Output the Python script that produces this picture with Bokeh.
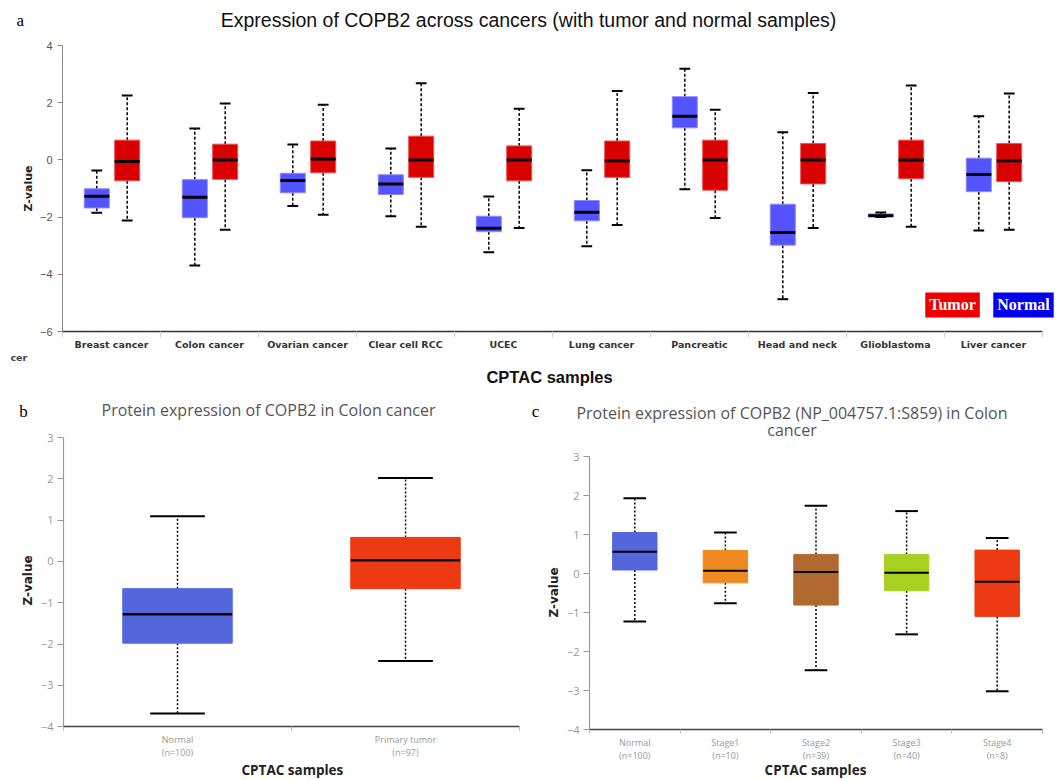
import math
from bokeh.plotting import figure
from bokeh.layouts import column, row
from bokeh.models import Label, FixedTicker, ColumnDataSource, Range1d
from bokeh.embed import file_html
from bokeh.resources import INLINE

# ---------------- Panel a data ----------------
cancers = ["Breast cancer", "Colon cancer", "Ovarian cancer", "Clear cell RCC", "UCEC",
           "Lung cancer", "Pancreatic", "Head and neck", "Glioblastoma", "Liver cancer"]
normal_top = [-0.37, 1.10, 0.54, 0.40, -1.28, -0.36, 3.19, 0.97, -1.84, 1.53]
normal_q3 = [-1.01, -0.69, -0.47, -0.52, -1.97, -1.42, 2.21, -1.55, -1.89, 0.06]
normal_med = [-1.27, -1.31, -0.72, -0.84, -2.39, -1.83, 1.53, -2.54, -1.95, -0.51]
normal_q1 = [-1.68, -2.02, -1.15, -1.21, -2.51, -2.13, 1.12, -2.98, -1.98, -1.11]
normal_bot = [-1.85, -3.69, -1.61, -1.97, -3.23, -3.02, -1.03, -4.87, -2.00, -2.47]
tumor_top = [2.25, 1.97, 1.93, 2.68, 1.79, 2.41, 1.75, 2.34, 2.60, 2.32]
tumor_q3 = [0.69, 0.55, 0.66, 0.83, 0.49, 0.66, 0.69, 0.57, 0.69, 0.57]
tumor_med = [-0.06, 0.00, 0.03, 0.00, 0.00, -0.03, 0.00, 0.00, 0.00, -0.03]
tumor_q1 = [-0.73, -0.68, -0.45, -0.61, -0.73, -0.61, -1.06, -0.84, -0.66, -0.76]
tumor_bot = [-2.12, -2.44, -1.92, -2.34, -2.38, -2.28, -2.03, -2.38, -2.34, -2.44]
a_yticks = [-6, -4, -2, 0, 2, 4]

# ---------------- Panel b data ----------------
b_groups = ["Normal\n(n=100)", "Primary tumor\n(n=97)"]
b_top = [1.095, 2.02]
b_q3 = [-0.66, 0.58]
b_med = [-1.28, 0.03]
b_q1 = [-1.98, -0.66]
b_bot = [-3.68, -2.41]
b_colors = ["#5566dd", "#ee3a12"]
b_yticks = [-4, -3, -2, -1, 0, 1, 2, 3]

# ---------------- Panel c data ----------------
c_groups = ["Normal\n(n=100)", "Stage1\n(n=10)", "Stage2\n(n=39)", "Stage3\n(n=40)", "Stage4\n(n=8)"]
c_top = [1.93, 1.05, 1.74, 1.60, 0.91]
c_q3 = [1.05, 0.59, 0.49, 0.49, 0.60]
c_med = [0.56, 0.07, 0.04, 0.02, -0.21]
c_q1 = [0.09, -0.24, -0.81, -0.44, -1.10]
c_bot = [-1.23, -0.76, -2.48, -1.56, -3.02]
c_colors = ["#5566dd", "#f08a22", "#b06a30", "#a8d020", "#ee3a12"]
c_yticks = [-4, -3, -2, -1, 0, 1, 2, 3]


def draw_boxes(p, xs, top, q3, med, q1, bot, colors, width, cap, line_colors=None,
               med_w=2, dash="3 2", whisk_w=1.5):
    src = ColumnDataSource(dict(
        x=xs, top=top, q3=q3, med=med, q1=q1, bot=bot, color=colors,
        lc=line_colors if line_colors else colors,
        bl=[x - width / 2 for x in xs], br=[x + width / 2 for x in xs],
        cl=[x - cap / 2 for x in xs], cr=[x + cap / 2 for x in xs]))
    p.segment(x0="x", y0="q3", x1="x", y1="top", source=src, line_color="black",
              line_width=whisk_w, line_dash=dash)
    p.segment(x0="x", y0="q1", x1="x", y1="bot", source=src, line_color="black",
              line_width=whisk_w, line_dash=dash)
    p.vbar(x="x", width=width, top="q3", bottom="q1", source=src, fill_color="color",
           line_color="lc", line_width=1)
    p.segment(x0="bl", y0="med", x1="br", y1="med", source=src, line_color="black",
              line_width=med_w)
    p.segment(x0="cl", y0="top", x1="cr", y1="top", source=src, line_color="black", line_width=2)
    p.segment(x0="cl", y0="bot", x1="cr", y1="bot", source=src, line_color="black", line_width=2)


def lab(p, x, y, text, size, color="#222", font="Liberation Sans", style="normal",
        angle=0, align="center", **kw):
    p.add_layout(Label(x=x, y=y, text=text, text_font_size=size, text_color=color,
                       text_font=font, text_font_style=style, angle=angle,
                       text_align=align, text_baseline="middle", **kw))


def full_fig(w, h, ax_left_px, px_per_x, top_px, y_top_val, px_per_y, xbounds, ybounds):
    """Figure whose frame covers the whole canvas; axes sit at fixed data locations."""
    x0 = -ax_left_px / px_per_x
    x1 = (w - ax_left_px) / px_per_x
    y1 = y_top_val + top_px / px_per_y
    y0 = y_top_val - (h - top_px) / px_per_y
    p = figure(width=w, height=h, x_range=Range1d(x0, x1), y_range=Range1d(y0, y1),
               output_backend="svg", toolbar_location=None, min_border=0)
    p.title.visible = False
    p.outline_line_color = None
    p.xgrid.visible = False
    p.ygrid.visible = False
    p.xaxis.fixed_location = ybounds[0]
    p.yaxis.fixed_location = xbounds[0]
    p.xaxis.bounds = xbounds
    p.yaxis.bounds = ybounds
    return p


# ================= Panel a =================
n = len(cancers)
pa = full_fig(1063, 388, 62, 98.0, 45, 4, 28.6, (0, n), (-6, 4))
centers = [i + 0.5 for i in range(n)]
draw_boxes(pa, [c - 0.15 for c in centers], normal_top, normal_q3, normal_med, normal_q1,
           normal_bot, ["#5353ff"] * n, 0.255, 0.11, ["#8a8aff"] * n, med_w=3, dash="3 2")
draw_boxes(pa, [c + 0.16 for c in centers], tumor_top, tumor_q3, tumor_med, tumor_q1,
           tumor_bot, ["#d90000"] * n, 0.255, 0.11, ["#ee5050"] * n, med_w=3, dash="3 2")

pa.xaxis.ticker = FixedTicker(ticks=centers, minor_ticks=list(range(n + 1)))
pa.xaxis.major_label_overrides = {c: name for c, name in zip(centers, cancers)}
pa.xaxis.major_tick_out = 0
pa.xaxis.major_tick_in = 0
pa.xaxis.minor_tick_out = 6
pa.xaxis.minor_tick_in = 0
pa.xaxis.minor_tick_line_color = "#c5d2ea"
pa.xaxis.axis_line_color = "#333333"
pa.xaxis.axis_line_width = 1.5
pa.xaxis.major_label_text_font = "DejaVu Sans"
pa.xaxis.major_label_text_font_style = "bold"
pa.xaxis.major_label_text_font_size = "9.5px"
pa.xaxis.major_label_text_color = "#333333"
pa.xaxis.major_label_standoff = 1

pa.yaxis.ticker = FixedTicker(ticks=a_yticks, minor_ticks=[])
pa.yaxis.axis_line_color = "#888888"
pa.yaxis.major_tick_line_color = "#888888"
pa.yaxis.major_tick_out = 5
pa.yaxis.major_tick_in = 0
pa.yaxis.major_label_text_font = "Liberation Sans"
pa.yaxis.major_label_text_font_size = "11px"
pa.yaxis.major_label_text_color = "#555555"
pa.yaxis.major_label_standoff = 5

lab(pa, 4.755, 4.909, "Expression of COPB2 across cancers (with tumor and normal samples)", "19.5px",
    color="#111")
lab(pa, -0.43, 4.87, "a", "17px", color="#000", font="Liberation Serif")
lab(pa, -0.347, -1.0, "Z-value", "11px", color="#222", font="DejaVu Sans", style="bold",
    angle=math.pi / 2)
lab(pa, -0.531, -6.909, "cer", "9.5px", color="#444", font="DejaVu Sans", style="bold",
    align="left")
lab(pa, 4.97, -7.608, "CPTAC samples", "16.5px", color="#111", font="Liberation Sans",
    style="bold")
lab(pa, 9.082, -5.073, "Tumor", "16px", color="white", font="Liberation Serif", style="bold",
    background_fill_color="#ee0000", padding=4)
lab(pa, 9.806, -5.073, "Normal", "16px", color="white", font="Liberation Serif", style="bold",
    background_fill_color="#0000ee", padding=4)


def style_small(p, groups, yticks):
    k = len(groups)
    cs = [i + 0.5 for i in range(k)]
    p.xaxis.ticker = FixedTicker(ticks=cs, minor_ticks=list(range(k + 1)))
    p.xaxis.major_label_overrides = {c: g for c, g in zip(cs, groups)}
    p.xaxis.major_tick_out = 0
    p.xaxis.major_tick_in = 0
    p.xaxis.minor_tick_out = 4
    p.xaxis.minor_tick_in = 0
    p.xaxis.minor_tick_line_color = "#bbbbbb"
    p.xaxis.axis_line_color = "#444444"
    p.xaxis.axis_line_width = 1.5
    p.xaxis.major_label_text_font = "Open Sans"
    p.xaxis.major_label_text_font_size = "9px"
    p.xaxis.major_label_text_line_height = 1.0
    p.xaxis.major_label_text_color = "#999999"
    p.xaxis.major_label_standoff = 2
    p.yaxis.ticker = FixedTicker(ticks=yticks, minor_ticks=[])
    p.yaxis.axis_line_color = "#999999"
    p.yaxis.axis_line_width = 1.2
    p.yaxis.major_tick_line_color = "#999999"
    p.yaxis.major_tick_out = 6
    p.yaxis.major_tick_in = 0
    p.yaxis.major_label_text_font = "Open Sans"
    p.yaxis.major_label_text_font_size = "11px"
    p.yaxis.major_label_text_color = "#999999"
    p.yaxis.major_label_standoff = 4
    return cs


# ================= Panel b =================
pb = full_fig(530, 392, 63, 228.0, 49, 3, 41.3, (0, len(b_groups)), (-4, 3))
bcs = style_small(pb, b_groups, b_yticks)
draw_boxes(pb, bcs, b_top, b_q3, b_med, b_q1, b_bot, b_colors, 0.48, 0.24,
           med_w=2.5, dash="2 2")
lab(pb, 0.899, 3.654, "Protein expression of COPB2 in Colon cancer", "16px", color="#555",
    font="Open Sans")
lab(pb, -0.175, 3.63, "b", "17px", color="#000", font="Liberation Serif")
lab(pb, -0.154, -0.462, "Z-value", "12px", color="#222", font="DejaVu Sans", style="bold",
    angle=math.pi / 2)
lab(pb, 1.004, -5.04, "CPTAC samples", "13.5px", color="#222", font="Open Sans", style="bold")

# ================= Panel c =================
pc = full_fig(533, 392, 59, 90.6, 68, 3, 39.0, (0, len(c_groups)), (-4, 3))
ccs = style_small(pc, c_groups, c_yticks)
draw_boxes(pc, ccs, c_top, c_q3, c_med, c_q1, c_bot, c_colors, 0.49, 0.25,
           med_w=2, dash="2 2")
lab(pc, 2.235, 4.128, "Protein expression of COPB2 (NP_004757.1:S859) in Colon", "16px",
    color="#555", font="Open Sans")
lab(pc, 2.235, 3.667, "cancer", "16px", color="#555", font="Open Sans")
lab(pc, -0.596, 4.154, "c", "17px", color="#000", font="Liberation Serif")
lab(pc, -0.397, -0.487, "Z-value", "12px", color="#222", font="DejaVu Sans", style="bold",
    angle=math.pi / 2)
lab(pc, 2.494, -5.05, "CPTAC samples", "13.5px", color="#222", font="Open Sans", style="bold")

layout = column(pa, row(pb, pc, spacing=0), spacing=0)
open("out.html", "w").write(file_html(layout, INLINE))
